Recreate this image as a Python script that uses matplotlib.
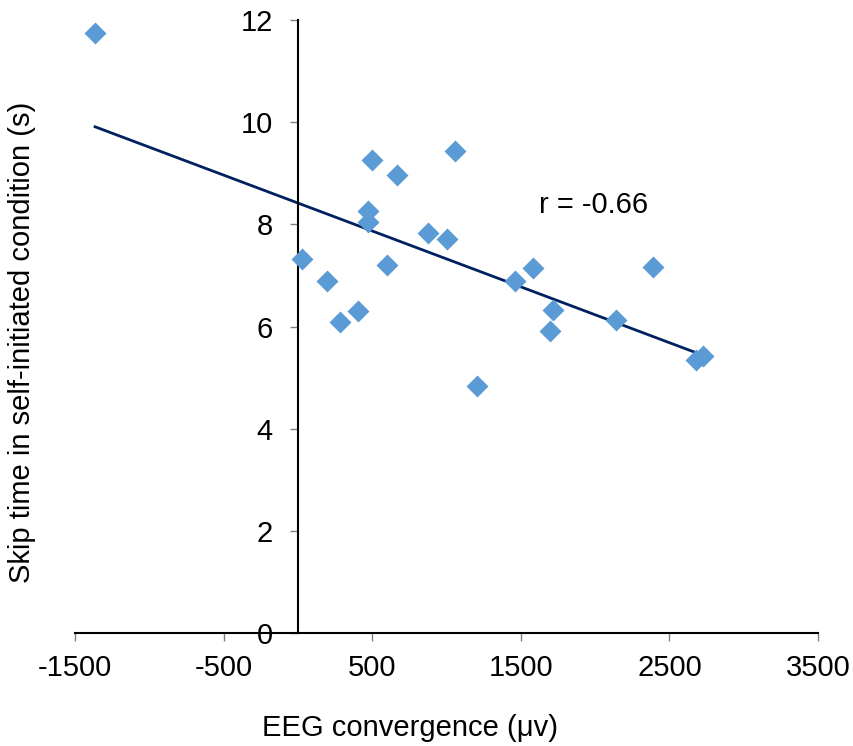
import matplotlib
matplotlib.use("Agg")
import matplotlib.pyplot as plt
import numpy as np

# EEG convergence (uV) vs skip time (s)
eeg = [-1365, 26, 194, 283, 404, 474, 474, 501, 602, 665, 876, 1001, 1057,
       1207, 1461, 1580, 1719, 1699, 2141, 2388, 2679, 2726]
skip = [11.75, 7.32, 6.89, 6.08, 6.30, 8.27, 8.05, 9.25, 7.21, 8.97, 7.83,
        7.72, 9.44, 4.84, 6.90, 7.14, 6.32, 5.92, 6.13, 7.16, 5.34, 5.42]
x_ticks = [-1500, -500, 500, 1500, 2500, 3500]
y_ticks = [0, 2, 4, 6, 8, 10, 12]

plt.rcParams['font.family'] = ['Liberation Sans', 'DejaVu Sans']

fig = plt.figure(figsize=(8.54, 7.46), dpi=100)
ax = fig.add_axes([75 / 854, 1 - 633 / 746, 743 / 854, 613 / 746])

x = np.array(eeg)
y = np.array(skip)
ax.plot(x, y, 'D', color='#5B9BD5', ms=11, mec='none', zorder=3)

# linear trend line over the data range
slope, icept = np.polyfit(x, y, 1)
xs = np.array([x.min(), x.max()])
ax.plot(xs, slope * xs + icept, color='#002060', lw=2, zorder=2)

r = np.corrcoef(x, y)[0, 1]
ax.text(1620, 8.22, 'r = %.2f' % r, fontsize=21, ha='left', va='baseline')

ax.set_xlim(-1500, 3500)
ax.set_ylim(0, 12)
ax.set_xticks(x_ticks)
ax.set_yticks(y_ticks)
ax.set_xticklabels([str(v) for v in x_ticks])
ax.set_yticklabels([str(v) for v in y_ticks])

for s in ['top', 'right']:
    ax.spines[s].set_visible(False)
ax.spines['left'].set_position(('data', 0))
ax.spines['bottom'].set_position(('data', 0))
ax.spines['left'].set_linewidth(1.5)
ax.spines['bottom'].set_linewidth(1.5)

ax.tick_params(axis='both', direction='out', length=6, width=1, color='#808080',
               labelsize=21)
ax.tick_params(axis='y', pad=12)
ax.tick_params(axis='x', pad=9)

fig.text(410 / 854, 1 - 736 / 746, 'EEG convergence (\u03bcv)', fontsize=21,
         ha='center', va='baseline')
fig.text(22 / 854, 1 - 342 / 746, 'Skip time in self-initiated condition (s)',
         fontsize=21, rotation=90, ha='center', va='center')

fig.savefig('out.png', dpi=100)
